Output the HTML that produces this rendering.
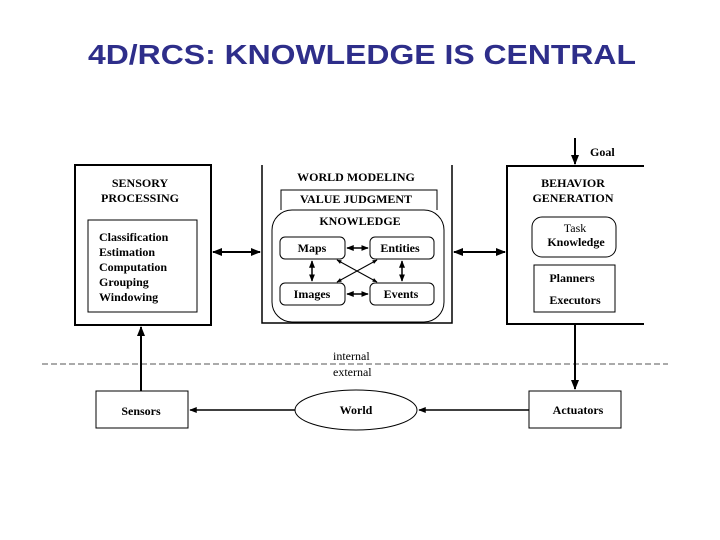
<!DOCTYPE html>
<html><head><style>body{margin:0;background:#fff}svg{display:block}</style></head><body>
<svg width="720" height="540" xmlns="http://www.w3.org/2000/svg" font-family="Liberation Serif, serif" font-weight="bold">
<defs><marker id="a" viewBox="0 0 10 10" refX="9" refY="5" markerWidth="5" markerHeight="5" orient="auto-start-reverse"><path d="M0,1 L10,5 L0,9 z" fill="#000"/></marker></defs>
<text x="88" y="64" textLength="548" lengthAdjust="spacingAndGlyphs" font-family="Liberation Sans, sans-serif" font-size="28" fill="#2e2e8a">4D/RCS: KNOWLEDGE IS CENTRAL</text>
<g fill="none" stroke="#000">
<rect x="75" y="165" width="136" height="160" stroke-width="2"/>
<rect x="88" y="220" width="109" height="92" stroke-width="1"/>
<path d="M262 165 V323 H452 V165" stroke-width="1.5"/>
<path d="M281 210 V190 H437 V210" stroke-width="1"/>
<rect x="272" y="210" width="172" height="112" rx="20" stroke-width="1"/>
<rect x="280" y="237" width="65" height="22" rx="5"/>
<rect x="370" y="237" width="64" height="22" rx="5"/>
<rect x="280" y="283" width="65" height="22" rx="5"/>
<rect x="370" y="283" width="64" height="22" rx="5"/>
<path d="M644 166 H507 V324 H644" stroke-width="2"/>
<rect x="532" y="217" width="84" height="40" rx="10"/>
<rect x="534" y="265" width="81" height="47"/>
<rect x="96" y="391" width="92" height="37"/>
<rect x="529" y="391" width="92" height="37"/>
<ellipse cx="356" cy="410" rx="61" ry="20"/>
<line x1="42" y1="364" x2="668" y2="364" stroke-dasharray="6,3" stroke="#555"/>
<g stroke-width="2" marker-start="url(#a)" marker-end="url(#a)">
<line x1="213" y1="252" x2="260" y2="252"/>
<line x1="454" y1="252" x2="505" y2="252"/>
<line x1="347" y1="248" x2="368" y2="248" stroke-width="1.5"/>
<line x1="347" y1="294" x2="368" y2="294" stroke-width="1.5"/>
<line x1="312" y1="261" x2="312" y2="281" stroke-width="1.5"/>
<line x1="402" y1="261" x2="402" y2="281" stroke-width="1.5"/>
<line x1="337" y1="260" x2="377" y2="282" stroke-width="1"/>
<line x1="377" y1="260" x2="337" y2="282" stroke-width="1"/>
</g>
<g stroke-width="2" marker-end="url(#a)">
<line x1="141" y1="391" x2="141" y2="327"/>
<line x1="575" y1="324" x2="575" y2="389"/>
<line x1="575" y1="138" x2="575" y2="164"/>
</g>
<g stroke-width="1.5" marker-end="url(#a)">
<line x1="295" y1="410" x2="190" y2="410"/>
<line x1="529" y1="410" x2="419" y2="410"/>
</g>
</g>
<g font-size="12" text-anchor="middle" fill="#000">
<text x="140" y="187">SENSORY</text><text x="140" y="202">PROCESSING</text>
<text x="356" y="181">WORLD MODELING</text>
<text x="356" y="203">VALUE JUDGMENT</text>
<text x="360" y="225">KNOWLEDGE</text>
<text x="312" y="252">Maps</text><text x="400" y="252">Entities</text>
<text x="312" y="298">Images</text><text x="401" y="298">Events</text>
<text x="573" y="187">BEHAVIOR</text><text x="573" y="202">GENERATION</text>
<text x="575" y="232" font-weight="normal">Task</text><text x="576" y="246">Knowledge</text>
<text x="572" y="282">Planners</text><text x="575" y="304">Executors</text>
<text x="141" y="415">Sensors</text><text x="356" y="414">World</text><text x="578" y="414">Actuators</text>
</g>
<g font-size="12" fill="#000">
<text x="99" y="241">Classification</text><text x="99" y="256">Estimation</text><text x="99" y="271">Computation</text><text x="99" y="286">Grouping</text><text x="99" y="301">Windowing</text>
<text x="590" y="156">Goal</text>
<text x="333" y="360" font-weight="normal">internal</text>
<text x="333" y="376" font-weight="normal">external</text>
</g>
</svg>
</body></html>
